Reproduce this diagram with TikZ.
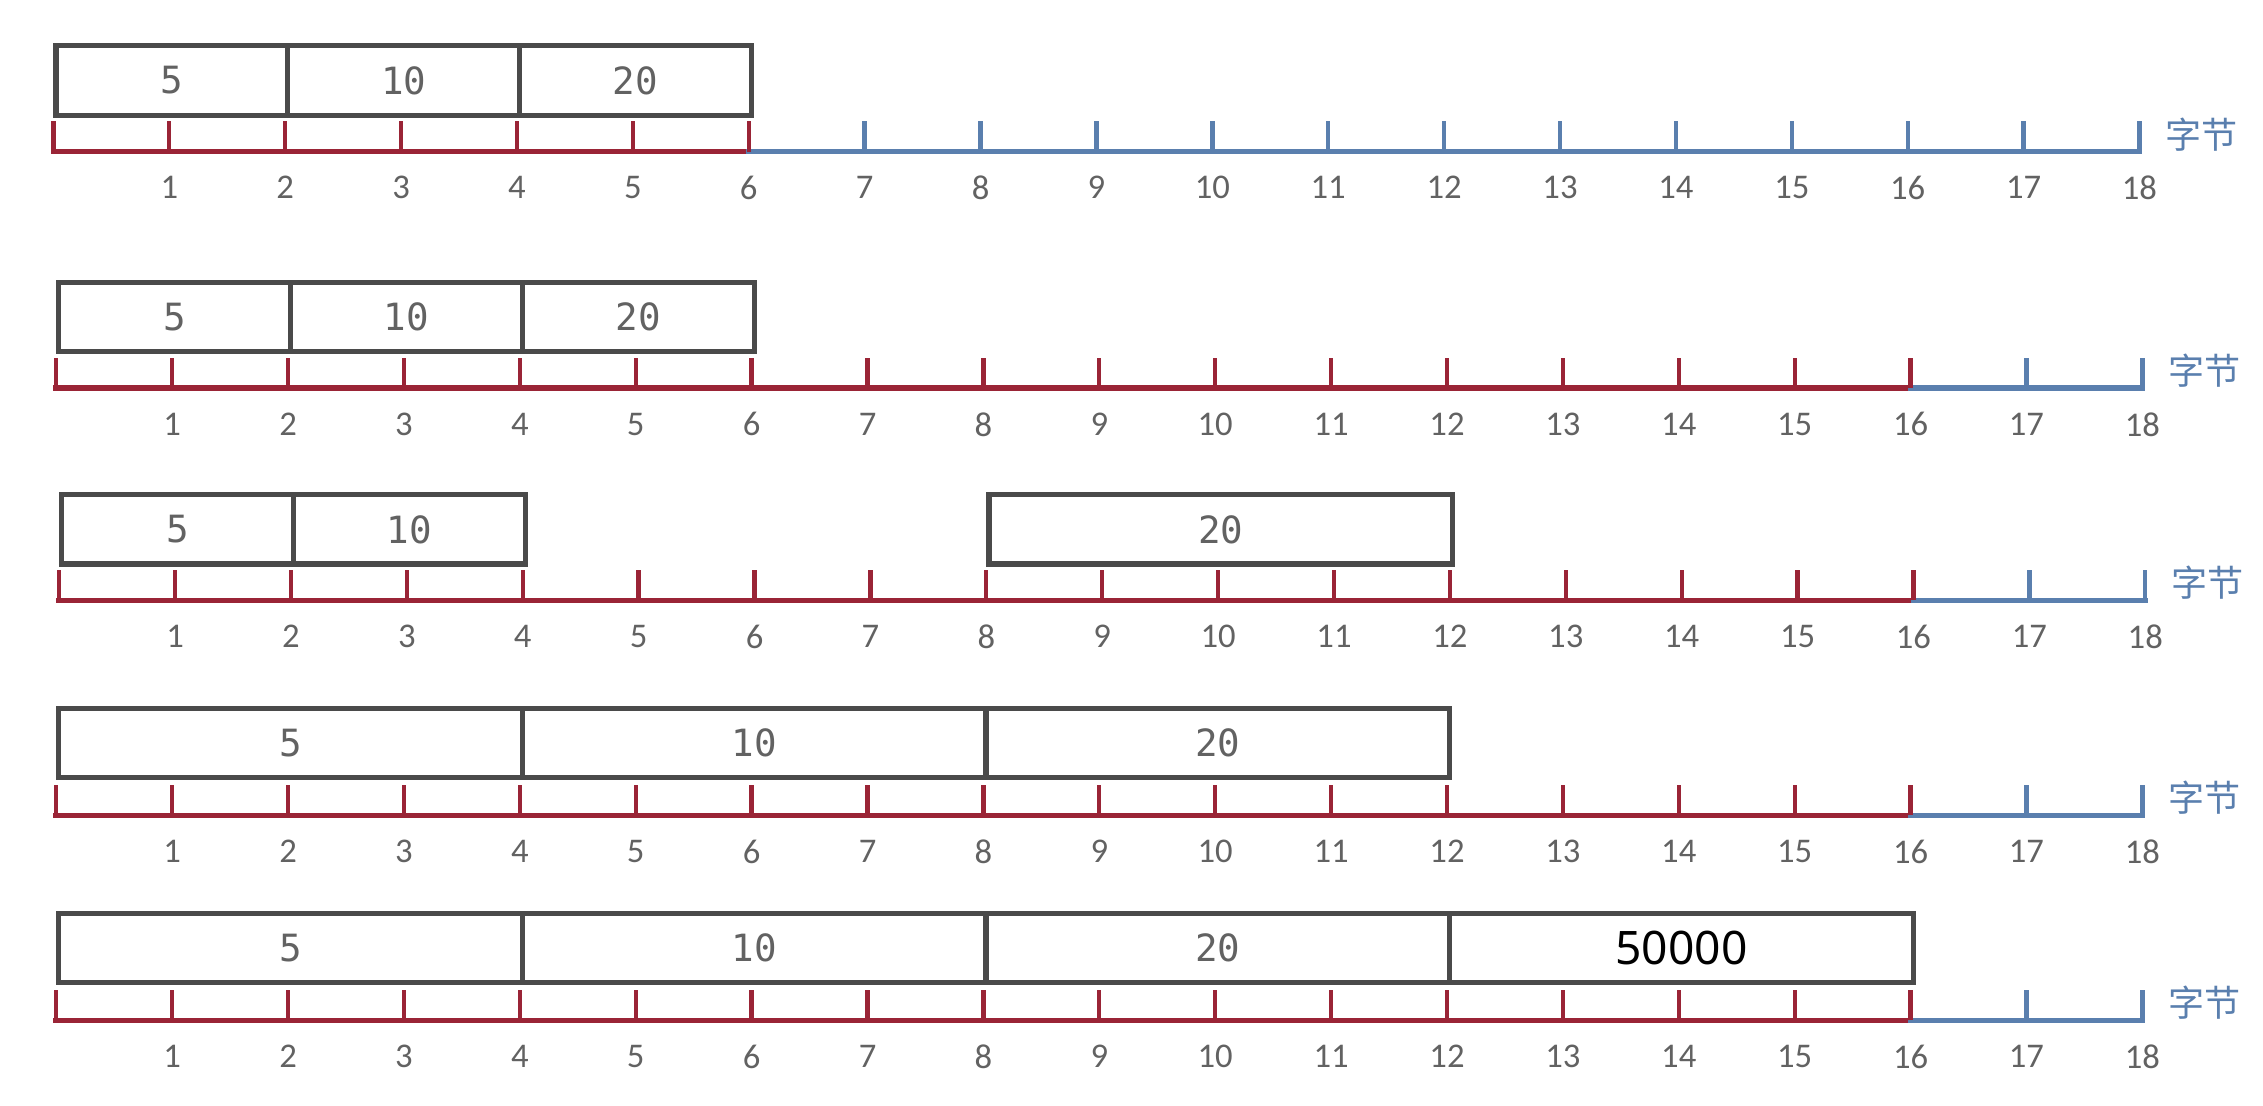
\documentclass[tikz,border=0pt]{standalone}
\usepackage{fontspec}
\newfontfamily\monofont{DejaVu Sans Mono}
\newfontfamily\labfont{Carlito}
\newfontfamily\bigfont{Noto Sans}
\newfontfamily\cjk{Noto Sans CJK SC}
\definecolor{boxgray}{HTML}{4A4A4A}
\definecolor{rulered}{HTML}{9A2436}
\definecolor{ruleblue}{HTML}{5A7FAE}
\definecolor{labgray}{HTML}{626262}
\def\uu{80.3}
\newcommand\cellbox[6]{%
  \node[cell, minimum width={(#5-#4)*40.15pt}] (#1) at ({#2+#4*\uu},#3) {#6};}
\newcommand\rulerrow[4]{% #1 x0, #2 y, #3 red end, #4 name
  \pgfmathtruncatemacro\nb{#3+1}
  \draw[rulered, ruleline] (#1,#2) -- ({#1+#3*\uu},#2);
  \draw[ruleblue, ruleline] ({#1+#3*\uu},#2) -- ({#1+18*\uu},#2);
  \foreach \i in {0,...,#3}{\draw[rulered, tickline] ({#1+\i*\uu},#2) -- ({#1+\i*\uu},#2-21);}
  \foreach \i in {\nb,...,18}{\draw[ruleblue, tickline] ({#1+\i*\uu},#2) -- ({#1+\i*\uu},#2-21);}
  \foreach \i in {1,...,18}{\node[lab] (#4l\i) at ({#1+\i*\uu},#2+25) {\i};}
  \node[unit] (#4u) at ({#1+18*\uu+43},#2-12) {字节};}
\begin{document}
\begin{tikzpicture}[x=0.5pt,y=-0.5pt,
  cell/.style={draw=boxgray, line width=1.8pt, minimum height=24pt, inner sep=0pt,
    anchor=north west, text=labgray, font=\monofont\fontsize{13}{15}\selectfont},
  bigcell/.style={text=black, font=\bigfont\fontsize{16}{18}\selectfont},
  ruleline/.style={line width=2pt, line cap=rect},
  tickline/.style={line width=1.5pt},
  lab/.style={text=labgray, font=\labfont\fontsize{12}{13}\selectfont, inner sep=0pt},
  unit/.style={text=ruleblue, font=\cjk\fontsize{12.5}{14}\selectfont, inner sep=0pt}]
\useasboundingbox (0,0) rectangle (1568,766);
% row 1
\cellbox{a1}{37}{30}{0}{2}{5}
\cellbox{a2}{37}{30}{2}{4}{10}
\cellbox{a3}{37}{30}{4}{6}{20}
\rulerrow{37}{105}{6}{ra}
% row 2
\cellbox{b1}{39}{194}{0}{2}{5}
\cellbox{b2}{39}{194}{2}{4}{10}
\cellbox{b3}{39}{194}{4}{6}{20}
\rulerrow{39}{269}{16}{rb}
% row 3
\cellbox{c1}{41}{341}{0}{2}{5}
\cellbox{c2}{41}{341}{2}{4}{10}
\cellbox{c3}{41}{341}{8}{12}{20}
\rulerrow{41}{416}{16}{rc}
% row 4
\cellbox{d1}{39}{489}{0}{4}{5}
\cellbox{d2}{39}{489}{4}{8}{10}
\cellbox{d3}{39}{489}{8}{12}{20}
\rulerrow{39}{565}{16}{rd}
% row 5
\cellbox{e1}{39}{631}{0}{4}{5}
\cellbox{e2}{39}{631}{4}{8}{10}
\cellbox{e3}{39}{631}{8}{12}{20}
\node[cell, bigcell, minimum width={4*40.15pt}] (e4) at ({39+12*\uu},631) {50000};
\rulerrow{39}{707}{16}{re}
\end{tikzpicture}
\end{document}
